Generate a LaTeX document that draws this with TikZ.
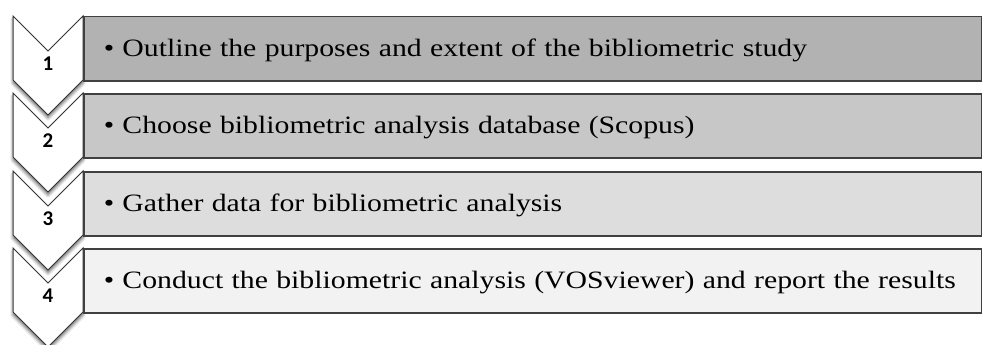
\documentclass[tikz,border=0pt]{standalone}
\usepackage{fontspec}
\setmainfont{Liberation Serif}[FakeStretch=1.19]
\newfontfamily\numfont{Carlito}
\usetikzlibrary{shadows.blur}

\definecolor{stepone}{gray}{0.70}
\definecolor{steptwo}{gray}{0.78}
\definecolor{stepthree}{gray}{0.865}
\definecolor{stepfour}{gray}{0.95}

\begin{document}
\begin{tikzpicture}
[
x=1pt,y=-1pt,
chev/.style={draw=black!80,fill=white,line width=1pt,line join=miter,
blur shadow={shadow xshift=0pt,shadow yshift=-3pt,shadow blur radius=3pt,shadow opacity=60}},
bar/.style={draw=black!75,line width=1.5pt,rectangle,anchor=north west,
minimum width=898pt,minimum height=64pt,inner xsep=20pt,text width=858pt,
text height=21pt,text depth=5pt,align=left,font=\fontsize{25}{29}\selectfont},
num/.style={font=\numfont\bfseries\fontsize{21}{23}\selectfont}
]
\useasboundingbox (0,0) rectangle (982,345);

% chevrons
\draw[chev] (13,248) -- (48,283) -- (83,248) -- (83,312) -- (48,347) -- (13,312) -- cycle;
\draw[chev] (13,171) -- (48,206) -- (83,171) -- (83,235) -- (48,270) -- (13,235) -- cycle;
\draw[chev] (13,93) -- (48,128) -- (83,93) -- (83,157) -- (48,192) -- (13,157) -- cycle;
\draw[chev] (13,16) -- (48,51) -- (83,16) -- (83,80) -- (48,115) -- (13,80) -- cycle;

\node[num] (n1) at (48,64) {1};
\node[num] (n2) at (48,141) {2};
\node[num] (n3) at (48,219) {3};
\node[num] (n4) at (48,296) {4};

% steps
\node[bar,fill=stepone] (bar1) at (83,16) {\textbullet\ Outline the purposes and extent of the bibliometric study};
\node[bar,fill=steptwo] (bar2) at (83,93) {\textbullet\ Choose bibliometric analysis database (Scopus)};
\node[bar,fill=stepthree] (bar3) at (83,171) {\textbullet\ Gather data for bibliometric analysis};
\node[bar,fill=stepfour] (bar4) at (83,248) {\textbullet\ Conduct the bibliometric analysis (VOSviewer) and report the results};
\end{tikzpicture}
\end{document}
